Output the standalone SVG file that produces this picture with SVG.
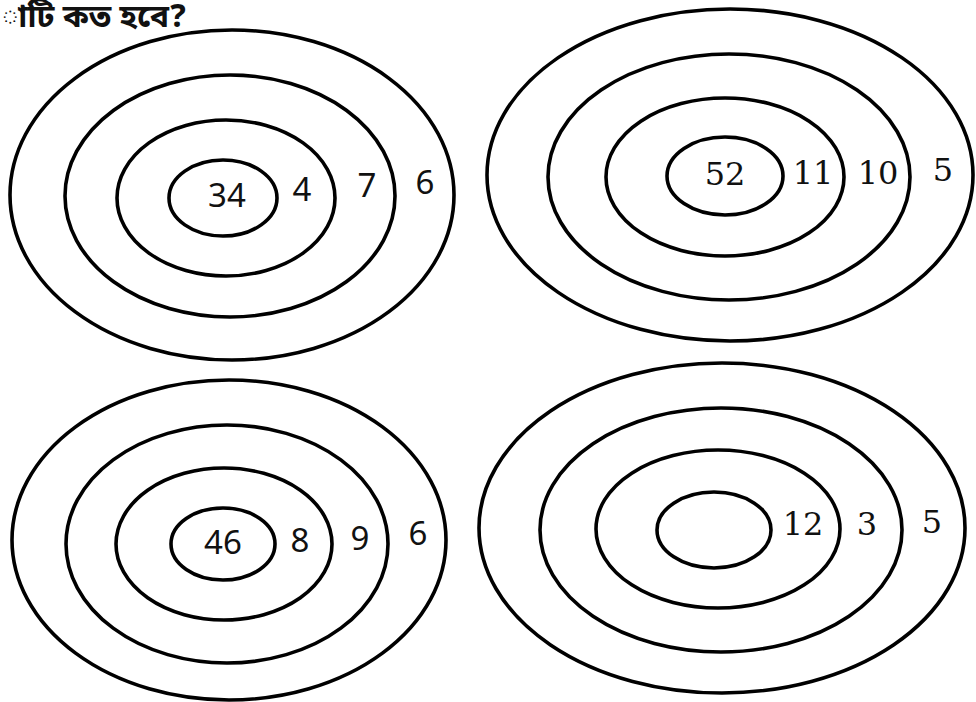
<svg xmlns="http://www.w3.org/2000/svg" width="976" height="702" viewBox="0 0 976 702">
<style>
.ring{fill:none;stroke:#000;stroke-width:3.6}
.sans{font-family:"Noto Sans","Open Sans","DejaVu Sans",sans-serif;font-size:33px;fill:#111;text-anchor:middle}
.serif{font-family:"DejaVu Serif","Liberation Serif",serif;font-size:32px;fill:#111;text-anchor:middle}
.title{font-family:"Noto Sans Bengali","Noto Sans","DejaVu Sans",sans-serif;font-size:32px;font-weight:bold;fill:#111}
</style>
<rect width="976" height="702" fill="#fff"/>
<text class="title" x="2" y="27">াটি কত হবে?</text>
<g id="target-top-left">
<ellipse class="ring" cx="232" cy="195" rx="222" ry="165"/>
<ellipse class="ring" cx="230" cy="196" rx="165" ry="121"/>
<ellipse class="ring" cx="226" cy="198" rx="109" ry="78"/>
<ellipse class="ring" cx="223" cy="198" rx="54" ry="38"/>
<text class="sans" x="227" y="207">34</text>
<text class="sans" x="302" y="201">4</text>
<text class="sans" x="367" y="197">7</text>
<text class="sans" x="425" y="194">6</text>
</g>
<g id="target-top-right">
<ellipse class="ring" cx="730" cy="175" rx="243" ry="166"/>
<ellipse class="ring" cx="729" cy="177" rx="181" ry="123"/>
<ellipse class="ring" cx="725" cy="177" rx="119" ry="79"/>
<ellipse class="ring" cx="725" cy="176" rx="58" ry="39"/>
<text class="serif" x="725" y="185">52</text>
<text class="serif" x="813" y="184">11</text>
<text class="serif" x="878" y="184">10</text>
<text class="serif" x="943" y="181">5</text>
</g>
<g id="target-bottom-left">
<ellipse class="ring" cx="229" cy="540" rx="217" ry="160"/>
<ellipse class="ring" cx="227" cy="544" rx="161" ry="119"/>
<ellipse class="ring" cx="224" cy="544" rx="108" ry="76"/>
<ellipse class="ring" cx="223" cy="544" rx="52" ry="36"/>
<text class="sans" x="223" y="554">46</text>
<text class="sans" x="300" y="552">8</text>
<text class="sans" x="360" y="550">9</text>
<text class="sans" x="418" y="545">6</text>
</g>
<g id="target-bottom-right">
<ellipse class="ring" cx="722" cy="528" rx="243" ry="165"/>
<ellipse class="ring" cx="721" cy="530" rx="181" ry="122"/>
<ellipse class="ring" cx="718" cy="529" rx="122" ry="79"/>
<ellipse class="ring" cx="714" cy="530" rx="57" ry="38"/>
<text class="serif" x="803" y="535">12</text>
<text class="serif" x="867" y="535">3</text>
<text class="serif" x="932" y="533">5</text>
</g>
</svg>
